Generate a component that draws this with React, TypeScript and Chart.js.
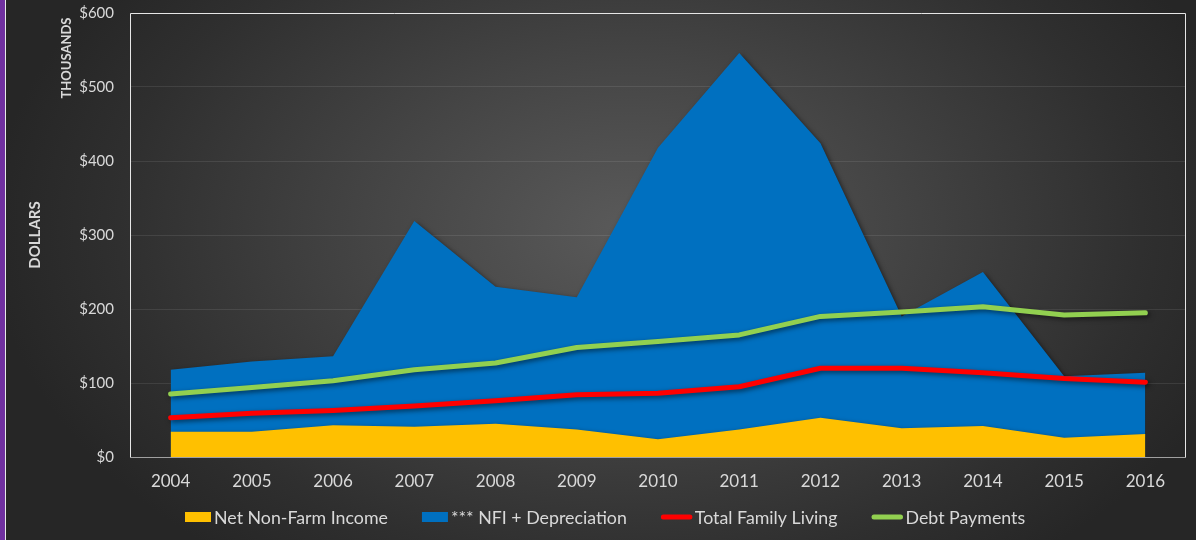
import React, { useEffect, useRef } from 'react';
import { Chart, registerables } from 'chart.js';

Chart.register(...registerables);

const years = ['2004', '2005', '2006', '2007', '2008', '2009', '2010', '2011', '2012', '2013', '2014', '2015', '2016'];
const netNonFarmIncome = [34, 34, 43, 41, 45, 37, 24, 37, 53, 39, 42, 26, 31];
const nfiPlusDepreciation = [118, 129, 136, 319, 230, 216, 418, 546, 424, 190, 250, 109, 114];
const totalFamilyLiving = [53, 59, 63, 69, 76, 84, 86, 95, 120, 120, 114, 106, 101];
const debtPayments = [85, 94, 103, 118, 127, 148, 156, 165, 190, 196, 203, 192, 195];
const yTickValues = [0, 100, 200, 300, 400, 500, 600];

const TEXT = '#d9d9d9';
const FONT = 'Lato, "Open Sans", sans-serif';
const SHIFT = 12; // canvas is placed SHIFT px above the page top

const decorPlugin = {
  id: 'decor',
  beforeDatasetsDraw(chart: any) {
    const { ctx, chartArea: a } = chart;
    ctx.save();
    ctx.lineWidth = 1;
    ctx.strokeStyle = '#e6e6e6';
    ctx.beginPath();
    ctx.moveTo(a.left + 0.5, a.bottom);
    ctx.lineTo(a.left + 0.5, a.top + 0.5);
    ctx.lineTo(a.right - 0.5, a.top + 0.5);
    ctx.lineTo(a.right - 0.5, a.bottom);
    ctx.stroke();
    ctx.strokeStyle = '#a0a0a0';
    ctx.beginPath();
    ctx.moveTo(a.left, a.bottom + 0.5);
    ctx.lineTo(a.right, a.bottom + 0.5);
    ctx.stroke();
    ctx.restore();
    ctx.save();
    ctx.shadowColor = 'rgba(0,0,0,0.55)';
    ctx.shadowBlur = 5;
    ctx.shadowOffsetX = 2;
    ctx.shadowOffsetY = 2;
  },
  afterDatasetsDraw(chart: any) {
    chart.ctx.restore();
  },
  afterDraw(chart: any) {
    const { ctx, chartArea: a } = chart;
    ctx.save();
    ctx.fillStyle = TEXT;
    ctx.textAlign = 'center';
    ctx.textBaseline = 'middle';
    // axis titles
    ctx.save();
    ctx.translate(35, (a.top + a.bottom) / 2);
    ctx.rotate(-Math.PI / 2);
    ctx.font = `bold 15px ${FONT}`;
    ctx.fillText('DOLLARS', 0, 0);
    ctx.restore();
    ctx.save();
    ctx.translate(67, a.top + 45);
    ctx.rotate(-Math.PI / 2);
    ctx.font = `bold 13px ${FONT}`;
    ctx.fillText('THOUSANDS', 0, 0);
    ctx.restore();

    // legend
    ctx.font = `17.8px ${FONT}`;
    ctx.textAlign = 'left';
    const yc = a.bottom + 60;
    let x = 185;
    chart.data.datasets.forEach((ds: any) => {
      const isLine = !ds.fill;
      if (isLine) {
        ctx.strokeStyle = ds.borderColor;
        ctx.lineWidth = 5;
        ctx.lineCap = 'round';
        ctx.beginPath();
        ctx.moveTo(x + 2.5, yc);
        ctx.lineTo(x + 29, yc);
        ctx.stroke();
        x += 31;
      } else {
        ctx.fillStyle = ds.backgroundColor;
        ctx.fillRect(x, yc - 5, 26, 10);
        x += 26;
      }
      x += 3;
      ctx.fillStyle = TEXT;
      ctx.fillText(ds.label, x, yc + 1);
      x += ctx.measureText(ds.label).width + 34;
    });
    ctx.restore();
  },
};

export default function App() {
  const ref = useRef<HTMLCanvasElement | null>(null);

  useEffect(() => {
    if (!ref.current) return;
    const chart = new Chart(ref.current, {
      type: 'line',
      data: {
        labels: years,
        datasets: [
          {
            label: 'Net Non-Farm Income',
            data: netNonFarmIncome,
            backgroundColor: '#FFC000',
            borderColor: '#FFC000',
            borderWidth: 0,
            fill: 'origin',
            pointRadius: 0,
            tension: 0,
            order: 2,
          },
          {
            label: '*** NFI + Depreciation',
            data: nfiPlusDepreciation,
            backgroundColor: '#0070C0',
            borderColor: '#0070C0',
            borderWidth: 0,
            fill: 'origin',
            pointRadius: 0,
            tension: 0,
            order: 3,
          },
          {
            label: 'Total Family Living',
            data: totalFamilyLiving,
            borderColor: '#FF0000',
            backgroundColor: '#FF0000',
            borderWidth: 5,
            borderCapStyle: 'round',
            borderJoinStyle: 'round',
            fill: false,
            pointRadius: 0,
            tension: 0,
            order: 1,
          },
          {
            label: 'Debt Payments',
            data: debtPayments,
            borderColor: '#92D050',
            backgroundColor: '#92D050',
            borderWidth: 5,
            borderCapStyle: 'round',
            borderJoinStyle: 'round',
            fill: false,
            pointRadius: 0,
            tension: 0,
            order: 0,
          },
        ],
      },
      options: {
        responsive: false,
        maintainAspectRatio: false,
        animation: false,
        layout: { autoPadding: false, padding: { top: 1, right: 10, left: 0, bottom: 0 } },
        plugins: {
          legend: { display: false },
          title: { display: false },
          subtitle: { display: false },
          tooltip: { enabled: false },
        },
        scales: {
          x: {
            type: 'category',
            offset: true,
            grid: { display: false, drawTicks: false },
            border: { display: false },
            ticks: {
              color: TEXT,
              font: { family: FONT, size: 17 },
              padding: 14,
              maxRotation: 0,
            },
            afterFit: (s: any) => {
              s.height = 83;
            },
          },
          y: {
            min: 0,
            max: 600,
            afterBuildTicks: (s: any) => {
              s.ticks = yTickValues.map((v) => ({ value: v }));
            },
            grid: {
              drawTicks: false,
              color: (c: any) =>
                c.tick && (c.tick.value === 0 || c.tick.value === 600) ? 'rgba(0,0,0,0)' : 'rgba(255,255,255,0.09)',
              lineWidth: 1,
            },
            border: { display: false },
            ticks: {
              color: TEXT,
              font: { family: FONT, size: 15 },
              padding: 16,
              callback: (v: any) => `$${v}`,
            },
            afterFit: (s: any) => {
              s.width = 130;
            },
          },
        },
      },
      plugins: [decorPlugin],
    });
    return () => chart.destroy();
  }, []);

  return (
    <div
      style={{
        position: 'fixed',
        left: 0,
        top: 0,
        width: 1196,
        height: 540,
        overflow: 'hidden',
        background:
          'radial-gradient(ellipse 640px 420px at 630px 230px, #5a5a5a 0%, #454545 40%, #2f2f2f 80%, #262626 100%)',
      }}
    >
      <div style={{ position: 'absolute', left: 0, top: 0, width: 5, height: 540, background: '#7030A0' }} />
      <div style={{ position: 'absolute', left: 5, top: 0, width: 1, height: 540, background: '#e8e8e8' }} />
      <canvas
        ref={ref}
        width={1196}
        height={540 + SHIFT}
        style={{ position: 'absolute', left: 0, top: -SHIFT, display: 'block' }}
      />
    </div>
  );
}
